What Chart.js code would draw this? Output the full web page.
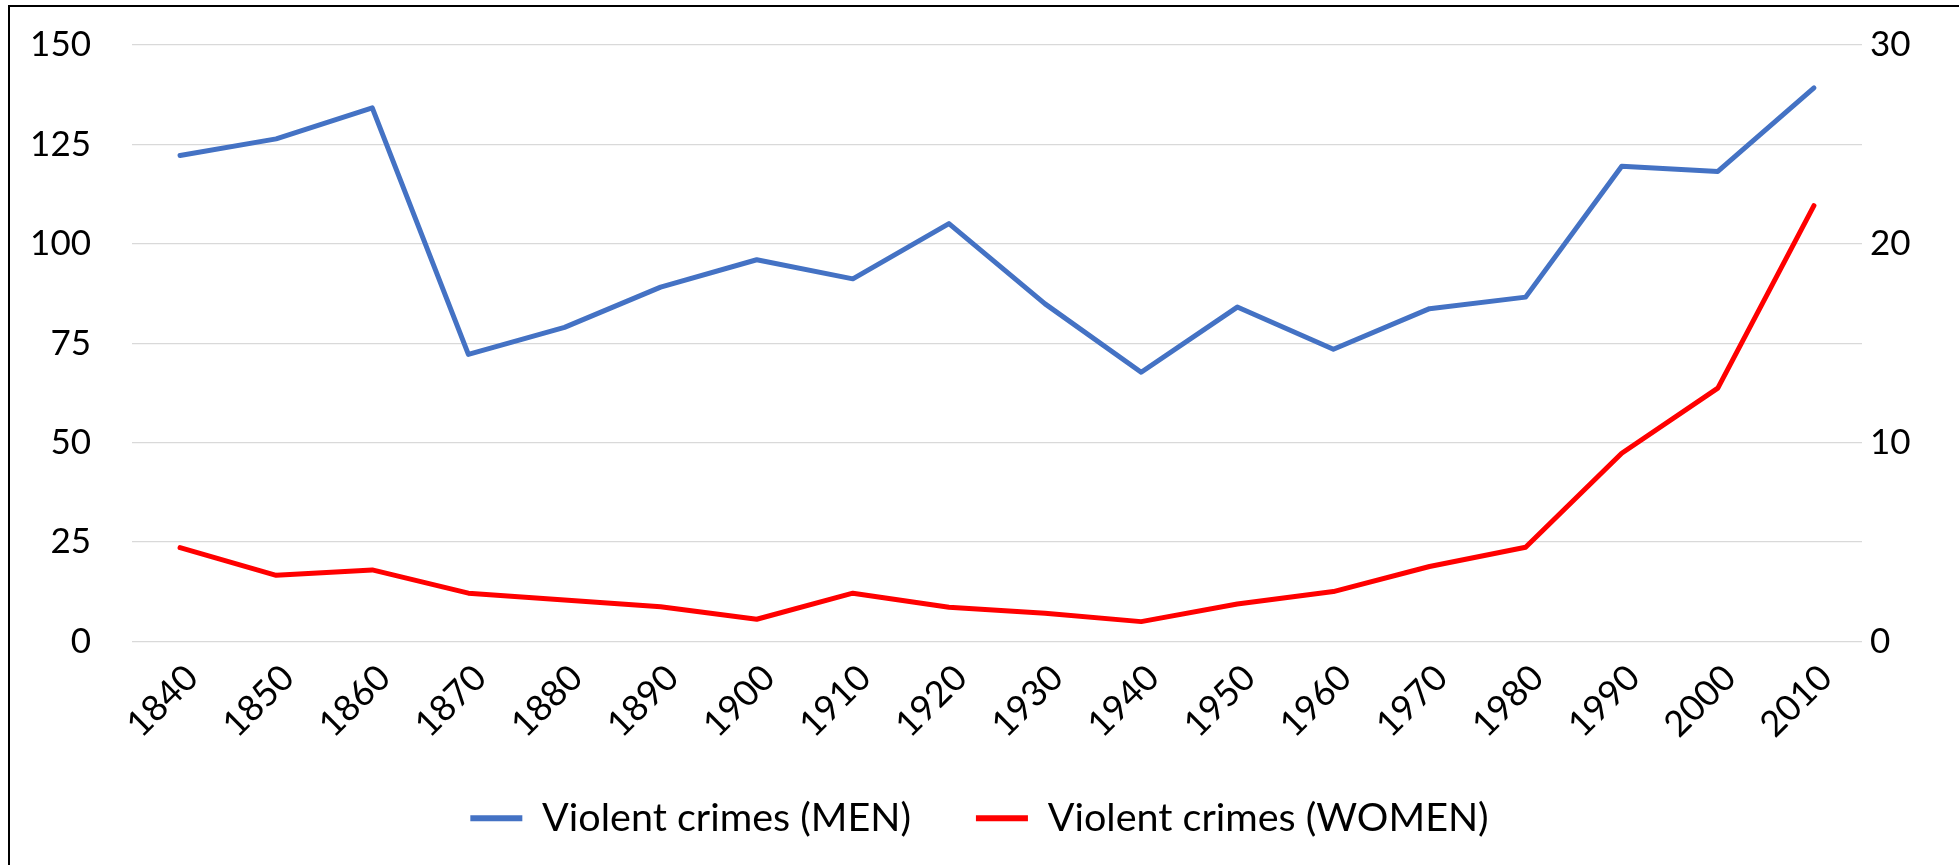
<!DOCTYPE html>
<html>
<head>
<meta charset="utf-8">
<script src="https://cdn.jsdelivr.net/npm/chart.js@4.4.1/dist/chart.umd.min.js"></script>
<style>
  html, body { margin: 0; padding: 0; background: #fff; overflow: hidden; }
  #wrap { position: relative; width: 1959px; height: 865px; }
  #frame { position: absolute; left: 8px; top: 5px; width: 2000px; height: 900px;
           border-left: 2px solid #000; border-top: 2px solid #000; pointer-events: none; }
  canvas { position: absolute; left: 0; top: 0; }
</style>
</head>
<body>
<div id="wrap">
  <canvas id="c" width="1959" height="865"></canvas>
  <div id="frame"></div>
</div>
<script>
const years = ['1840','1850','1860','1870','1880','1890','1900','1910','1920','1930','1940','1950','1960','1970','1980','1990','2000','2010'];
const menValues = [122.2,126.4,134.2,72.2,79.0,89.1,96.0,91.2,105.1,84.9,67.7,84.1,73.5,83.7,86.6,119.5,118.2,139.2];
const womenValues = [4.72,3.33,3.6,2.43,2.09,1.75,1.12,2.43,1.72,1.42,1.0,1.89,2.51,3.77,4.74,9.47,12.74,21.92];
const menLabel = 'Violent crimes (MEN)';
const womenLabel = 'Violent crimes (WOMEN)';
const leftTicks = [0,25,50,75,100,125,150];
const rightTicks = [0,10,20,30];

const FONT = 'Lato';
const FS = 35;
const XFS = 36;
const LEGEND_FS = 39.5;

function noVPad(s) { s.paddingTop = 0; s.paddingBottom = 0; }

new Chart(document.getElementById('c'), {
  type: 'line',
  data: {
    labels: years,
    datasets: [
      { label: menLabel, data: menValues, yAxisID: 'y', borderColor: '#4472C4', backgroundColor: '#4472C4',
        borderWidth: 5, pointRadius: 0, tension: 0, borderCapStyle: 'round', borderJoinStyle: 'round' },
      { label: womenLabel, data: womenValues, yAxisID: 'y1', borderColor: '#FF0000', backgroundColor: '#FF0000',
        borderWidth: 5, pointRadius: 0, tension: 0, borderCapStyle: 'round', borderJoinStyle: 'round' }
    ]
  },
  options: {
    responsive: false,
    animation: false,
    devicePixelRatio: 1,
    layout: { padding: { top: 45, left: 0, right: 0, bottom: 17 } },
    plugins: {
      tooltip: { enabled: false },
      legend: {
        position: 'bottom',
        labels: {
          font: { family: FONT, size: LEGEND_FS },
          color: '#000',
          boxWidth: 52,
          boxHeight: 6,
          padding: 65,
          generateLabels: (chart) => {
            const items = Chart.defaults.plugins.legend.labels.generateLabels(chart);
            items.forEach(it => { it.lineWidth = 0; it.fillStyle = it.strokeStyle; });
            return items;
          }
        }
      }
    },
    scales: {
      x: {
        offset: true,
        grid: { display: false, drawTicks: false },
        border: { display: false },
        ticks: { font: { family: FONT, size: XFS }, color: '#000', minRotation: 45, maxRotation: 45,
                 padding: 15, labelOffset: 12, autoSkip: false },
        afterFit: (s) => { s.height = 92; s._computeLabelArea = () => undefined; }
      },
      y: {
        position: 'left',
        min: 0, max: 150,
        afterBuildTicks: (s) => { s.ticks = leftTicks.map(v => ({ value: v })); },
        grid: { color: '#d9d9d9', lineWidth: 1.3, drawTicks: false },
        border: { display: false },
        ticks: { font: { family: FONT, size: FS }, color: '#000', padding: 41 },
        afterFit: (s) => { s.width = 132; noVPad(s); }
      },
      y1: {
        position: 'right',
        min: 0, max: 30,
        afterBuildTicks: (s) => { s.ticks = rightTicks.map(v => ({ value: v })); },
        grid: { display: false, drawTicks: false },
        border: { display: false },
        ticks: { font: { family: FONT, size: FS }, color: '#000', padding: 8 },
        afterFit: (s) => { s.width = 97; noVPad(s); }
      }
    }
  }
});
</script>
</body>
</html>
